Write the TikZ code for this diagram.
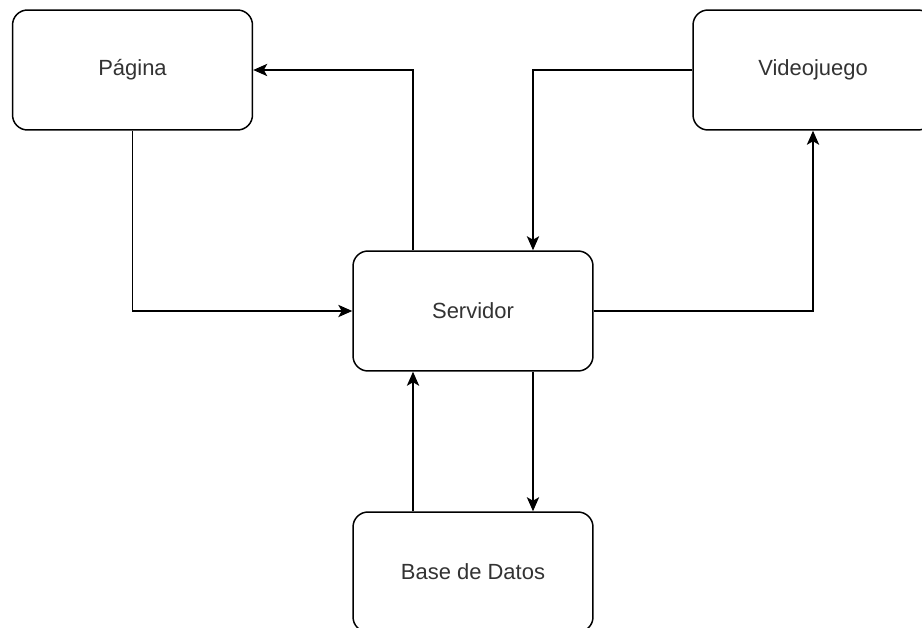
\documentclass[tikz,border=0pt]{standalone}
\usepackage{fontspec}
\setmainfont{Liberation Sans}
\usetikzlibrary{positioning, arrows.meta}

\definecolor{txtgray}{HTML}{333333}

\tikzset{
    block/.style={draw, line width=0.85pt, rounded corners=0.3cm, minimum width=4.8cm,
        minimum height=2.4cm, text=txtgray, font=\fontsize{12.5}{15}\selectfont, fill=white},
    arr/.style={-{Stealth[length=8pt,width=7pt,inset=2pt]}, line width=0.85pt}
}

\begin{document}
\begin{tikzpicture}[x=0.02cm, y=-0.02cm]
    \useasboundingbox (0,0) rectangle (922,628);
    \clip (0,0) rectangle (922,628);
    \fill[white] (0,0) rectangle (922,628);

    \node[block] (pag) at (132.5,70) {Página};
    \node[block] (vid) at (813,70) {Videojuego};
    \node[block] (serv) at (473,311) {Servidor};
    \node[block] (bd) at (473,572) {Base de Datos};

    \draw[arr] ([xshift=-1.2cm]serv.north) |- (pag.east);
    \draw[arr] (pag.south) |- (serv.west);
    \draw[arr] (vid.west) -| ([xshift=1.2cm]serv.north);
    \draw[arr] (serv.east) -| (vid.south);
    \draw[arr] ([xshift=1.2cm]serv.south) -- ([xshift=1.2cm]bd.north);
    \draw[arr] ([xshift=-1.2cm]bd.north) -- ([xshift=-1.2cm]serv.south);
    
\end{tikzpicture}
\end{document}
